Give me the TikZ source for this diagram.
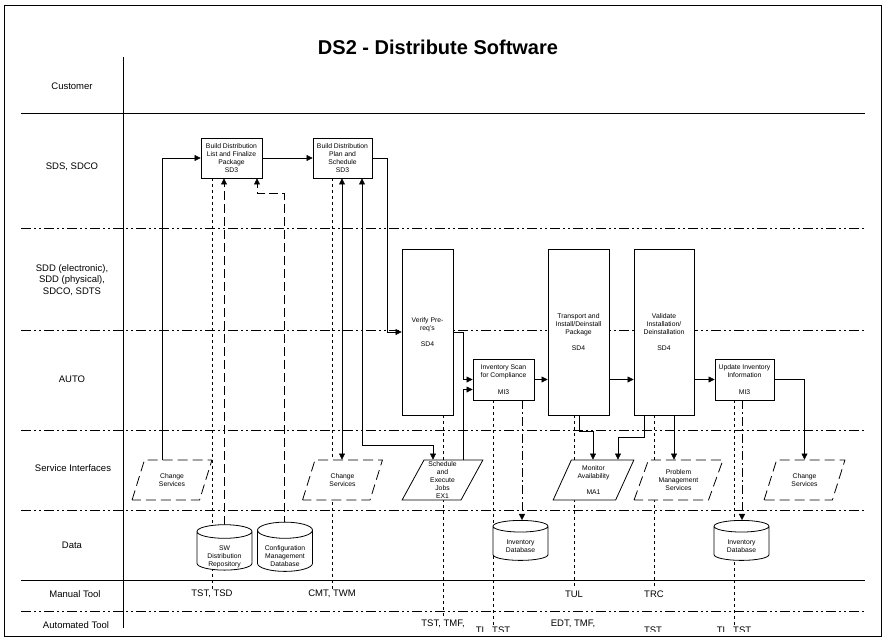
\documentclass[tikz,border=0pt]{standalone}
\usepackage{fontspec}
\setmainfont{Liberation Sans}
\usetikzlibrary{arrows.meta, shapes.geometric, backgrounds}
\newcommand{\droptext}[2]{\raisebox{#1}[\height][\depth]{\begin{tabular}{@{}c@{}}#2\end{tabular}}}

\begin{document}
\begin{tikzpicture}[x = 1pt, y = -1pt, line width = 0.8pt,
    every node/.style = {inner sep = 0pt},
    tiny/.style = {font = \fontsize{6.8}{8.2}\selectfont, align = center},
    proc/.style = {tiny, draw, fill = white},
    para/.style = {tiny, draw, fill = white, trapezium, trapezium left angle = 66, trapezium right angle = 114, trapezium stretches = true, minimum width = 81pt, minimum height = 40pt},
    ext/.style = {para, dash pattern = on 10pt off 5pt},
    db/.style = {tiny, draw, fill = white, cylinder, shape border rotate = 90, aspect = 0.4, minimum width = 55pt, minimum height = 40pt},
    lane/.style = {font = \fontsize{9.5}{11.5}\selectfont, align = center},
    tool/.style = {font = \fontsize{9.5}{11}\selectfont, inner sep = 1pt},
    sep/.style = {dash pattern = on 10pt off 3pt on 2pt off 3pt on 2pt off 3pt},
    link/.style = {-{Triangle[length = 6pt, width = 6pt]}},
    dlink/.style = {{Triangle[length = 6pt, width = 6pt]}-{Triangle[length = 6pt, width = 6pt]}},
    feed/.style = {link, dash pattern = on 9pt off 4pt},
    store/.style = {link, dash pattern = on 9pt off 3pt on 2pt off 3pt},
    tie/.style = {dash pattern = on 3pt off 3pt}]
    \useasboundingbox (0,0) rectangle (888,643);
    \draw (4,5) rectangle (881,636);

    \node[font = \bfseries\fontsize{20}{24}\selectfont] (title) at (438,47) {DS2 - Distribute Software};

    \node[lane] (cust) at (72,86) {Customer};
    \node[lane] (sds) at (72,167) {SDS, SDCO};
    \node[lane] (sdd) at (72,280) {SDD (electronic),\\SDD (physical),\\SDCO, SDTS};
    \node[lane] (auto) at (72,379) {AUTO};
    \node[lane] (svc) at (73,468) {Service Interfaces};
    \node[lane] (data) at (72,545) {Data};
    \node[lane] (man) at (75,594) {Manual Tool};
    \node[lane] (aut) at (76,625) {Automated Tool};

    \node[proc, minimum width = 61pt, minimum height = 40pt] (list) at (231.5,158) {Build Distribution\\List and Finalize\\Package\\SD3};
    \node[proc, minimum width = 59pt, minimum height = 40pt] (plan) at (342.5,158) {Build Distribution\\Plan and\\Schedule\\SD3};
    \node[proc, minimum width = 51pt, minimum height = 166pt] (verify) at (427.5,332) {Verify Pre-\\req's\\[8.2pt]SD4};
    \node[proc, minimum width = 61pt, minimum height = 41pt] (scan) at (503.5,379.5) {Inventory Scan\\for Compliance\\[8.2pt]MI3};
    \node[proc, minimum width = 61pt, minimum height = 166pt] (ship) at (578.5,332) {Transport and\\Install/Deinstall\\Package\\[8.2pt]SD4};
    \node[proc, minimum width = 60pt, minimum height = 166pt] (check) at (664,332) {Validate\\Installation/\\Deinstallation\\[8.2pt]SD4};
    \node[proc, minimum width = 59pt, minimum height = 41pt] (update) at (744.5,379.5) {Update Inventory\\Information\\[8.2pt]MI3};

    \node[ext, minimum width = 80pt] (chg1) at (172,480) {Change\\Services};
    \node[ext, minimum width = 80pt] (chg2) at (342.5,480) {Change\\Services};
    \node[para] (jobs) at (442.5,480) {Schedule\\and\\Execute\\Jobs\\EX1};
    \node[para] (mon) at (593.5,480) {Monitor\\Availability\\[8.2pt]MA1};
    \node[ext, minimum width = 89pt] (prob) at (678.5,480) {Problem\\Management\\Services};
    \node[ext] (chg4) at (804.5,480) {Change\\Services};

    \node[db] (repo) at (224.5,551) {\droptext{-6pt}{SW\\Distribution\\Repository}};
    \node[db] (cmdb) at (285,551) {\droptext{-6pt}{Configuration\\Management\\Database}};
    \node[db] (inv1) at (520.5,543.5) {\droptext{-3pt}{Inventory\\Database}};
    \node[db] (inv2) at (741.5,543.5) {\droptext{-3pt}{Inventory\\Database}};

    \node[tool] (tsd) at (212,594) {TST, TSD};
    \node[tool] (cmt) at (332,594) {CMT, TWM};
    \node[tool] (tul) at (574,594) {TUL};
    \node[tool] (trc) at (654,594) {TRC};
    \node[tool] (tmf) at (443,624) {TST, TMF,};
    \node[tool] (edt) at (573,624) {EDT, TMF,};
    \begin{scope}
        \clip (0,0) rectangle (888,631);
        \node[tool, anchor = north] (tl1) at (493,625) {TL, TST};
        \node[tool, anchor = north] (tst) at (653,625) {TST};
        \node[tool, anchor = north] (tl2) at (734,625) {TL, TST};
    \end{scope}

    \begin{scope}[on background layer]
        \draw (123,57) -- (123,628);
        \draw (21,113) -- (865,113);
        \draw (21,580) -- (865,580);
        \foreach \y in {228,330,430,510,611}
            \draw[sep] (21,\y) -- (865,\y);

        \draw[link] (162,0 |- chg1.north) |- (list);
        \draw[link] (list) -- (plan);
        \draw[link] (plan.east) -- ++(15,0) |- (verify);
        \draw[link] (verify.east) -- ++(10,0) |- (scan);
        \draw[link] (463,0 |- jobs.north) |- ([yshift = -10pt]scan.west);
        \draw[link] (scan.east) -- (ship.west |- scan.east);
        \draw[link] (ship.east |- scan.east) -- (check.west |- scan.east);
        \draw[link] (check.east |- update) -- (update);
        \draw[link] (update) -| (chg4);
        \draw[dlink] (342,0 |- plan.south) -- (342,0 |- chg2.north);
        \draw[dlink] (362,0 |- plan.south) -- (362,445) -| (433,0 |- jobs.north);
        \draw[feed] (224,0 |- repo) -- (224,0 |- list.south);
        \draw[feed] (284,0 |- cmdb) -- (284,193) -- (257,193) -- (257,0 |- list.south);
        \draw[store] (522,0 |- scan.south) -- (522,0 |- inv1.north);
        \draw[store] (742,0 |- update.south) -- (742,0 |- inv2.north);
        \draw[link] (579,0 |- ship.south) -- (579,431) -| (593,0 |- mon.north);
        \draw[link] (644,0 |- check.south) -- (644,437) -| (618,0 |- mon.north);
        \draw[link] (674,0 |- check.south) -- (674,0 |- prob.north);

        \draw[tie] (212,0 |- list.south) -- (tsd.north);
        \draw[tie] (332,0 |- plan.south) -- (cmt.north);
        \draw[tie] (443,0 |- verify.south) -- (tmf.north);
        \draw[tie] (493,0 |- scan.south) -- (tl1.north);
        \draw[tie] (574,0 |- ship.south) -- (tul.north);
        \draw[tie] (654,0 |- check.south) -- (trc.north);
        \draw[tie] (734,0 |- update.south) -- (tl2.north);
    \end{scope}
\end{tikzpicture}
\end{document}
